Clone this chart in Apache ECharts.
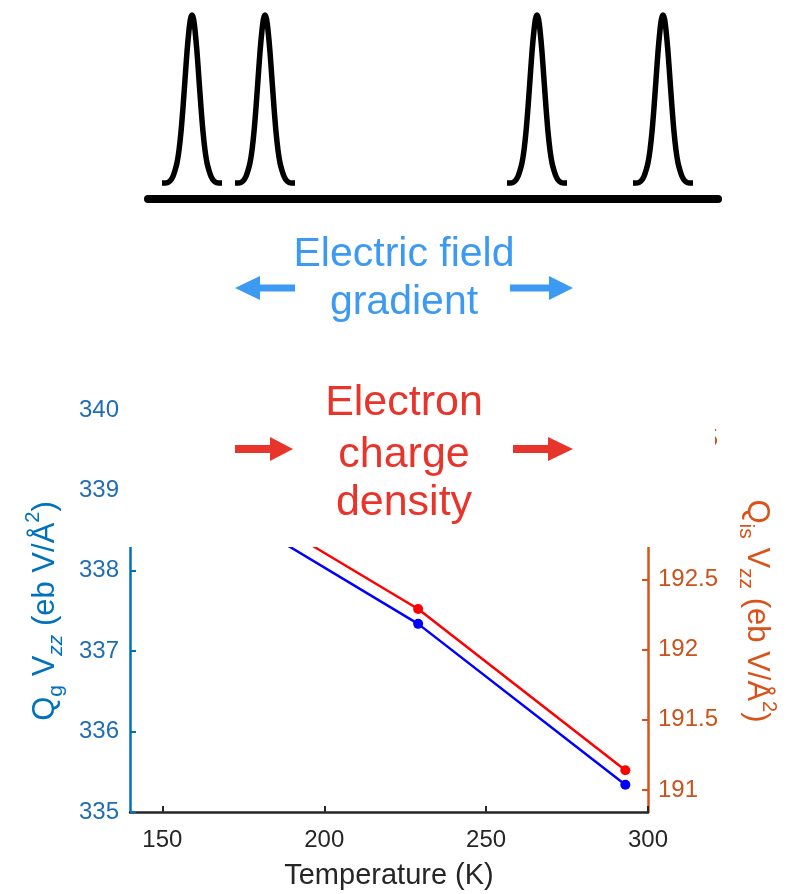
<!DOCTYPE html>
<html>
<head>
<meta charset="utf-8">
<script src="https://cdn.jsdelivr.net/npm/echarts@6/dist/echarts.min.js"></script>
<style>
html,body{margin:0;padding:0;background:#fff;}
#chart{width:794px;height:894px;}
</style>
</head>
<body>
<div id="chart"></div>
<script>
// ---- data ----
const temperature = [150, 229, 293];          // K
const qgVzz = [339.25, 337.34, 335.34];        // left axis, eb V/Å²
const qisVzz = [193.38, 192.29, 191.14];       // right axis, eb V/Å²
const xTicks = [150, 200, 250, 300];
const leftTicks = [335, 336, 337, 338, 339, 340];
const rightTicks = [191, 191.5, 192, 192.5, 193, 193.5];

// schematic spectrum peaks (arbitrary units along the bar)
const peakCenters = [44, 117, 389, 515];
const peakOffsets = [-30, -26, -22, -19, -17, -15, -13, -11, -9, -7, -5, -3, -1.5, 0, 1.5, 3, 5, 7, 9, 11, 13, 15, 17, 19, 22, 26, 30];
const peakProfile = [0, 0, 0.012, 0.04, 0.075, 0.12, 0.195, 0.305, 0.45, 0.615, 0.78, 0.91, 0.977, 1, 0.977, 0.91, 0.78, 0.615, 0.45, 0.305, 0.195, 0.12, 0.075, 0.04, 0.012, 0, 0];

const FONT = '"Liberation Sans", Arial, Helvetica, sans-serif';
const BLUE_AX = '#0072BD';
const ORANGE_AX = '#D95319';
const DARK = '#262626';
const TXT_BLUE = '#3d9af2';
const TXT_RED = '#e8352b';

const peakSeries = peakCenters.map(c => ({
  type: 'line',
  xAxisIndex: 1,
  yAxisIndex: 2,
  data: peakOffsets.map((o, i) => [c + o, peakProfile[i]]),
  showSymbol: false,
  smooth: 0.3,
  clip: false,
  lineStyle: { color: '#000', width: 5.5, join: 'round', cap: 'butt' },
  silent: true
}));

function arrow(tipX, y, baseX, tailX, halfHead, halfShaft, color) {
  return {
    type: 'polygon', z: 110,
    shape: { points: [
      [tipX, y], [baseX, y - halfHead], [baseX, y - halfShaft], [tailX, y - halfShaft],
      [tailX, y + halfShaft], [baseX, y + halfShaft], [baseX, y + halfHead]
    ] },
    style: { fill: color }
  };
}

const nameRich = {
  n: { fontSize: 31, fontFamily: FONT },
  sub: { fontSize: 21, fontFamily: FONT, verticalAlign: 'bottom', lineHeight: 44 },
  subi: { fontSize: 21, fontFamily: FONT, fontStyle: 'italic', verticalAlign: 'bottom', lineHeight: 44 },
  sup: { fontSize: 20, fontFamily: FONT, verticalAlign: 'top', lineHeight: 40 }
};

const option = {
  animation: false,
  backgroundColor: '#fff',
  grid: [
    { left: 130, top: 410, width: 518, height: 402, containLabel: false },
    { left: 148, top: 15, width: 570, height: 184, containLabel: false }
  ],
  xAxis: [
    {
      type: 'value', gridIndex: 0, min: 140, max: 300,
      axisLine: { show: true, onZero: false, lineStyle: { color: DARK, width: 2.5 } },
      axisTick: { show: true, inside: true, length: 6, customValues: xTicks, lineStyle: { color: DARK, width: 2 } },
      axisLabel: { customValues: xTicks, fontSize: 24, color: DARK, fontFamily: FONT, margin: 16 },
      splitLine: { show: false },
      name: 'Temperature (K)', nameLocation: 'middle', nameGap: 49,
      nameTextStyle: { fontSize: 29, color: DARK, fontFamily: FONT }
    },
    {
      type: 'value', gridIndex: 1, min: 0, max: 570,
      axisLine: { show: true, onZero: false, lineStyle: { color: '#000', width: 8 } },
      axisTick: { show: false }, axisLabel: { show: false }, splitLine: { show: false }
    }
  ],
  yAxis: [
    {
      type: 'value', gridIndex: 0, position: 'left', min: 335, max: 340, interval: 1,
      axisLine: { show: true, onZero: false, lineStyle: { color: BLUE_AX, width: 2.5 } },
      axisTick: { show: true, inside: true, length: 6, lineStyle: { color: BLUE_AX, width: 2 } },
      axisLabel: { fontSize: 24, color: '#1f6db3', fontFamily: FONT, margin: 11 },
      splitLine: { show: false },
      name: '{n|Q}{sub|g}{n| V}{subi|zz}{n| (eb V/Å}{sup|2}{n|)}',
      nameLocation: 'middle', nameRotate: 90, nameGap: 63,
      nameTextStyle: { color: BLUE_AX, fontSize: 31, fontFamily: FONT, rich: nameRich }
    },
    {
      type: 'value', gridIndex: 0, position: 'right', min: 190.843, max: 193.708,
      axisLine: { show: true, onZero: false, lineStyle: { color: ORANGE_AX, width: 2.5 } },
      axisTick: { show: true, inside: true, length: 6, customValues: rightTicks, lineStyle: { color: ORANGE_AX, width: 2 } },
      axisLabel: { customValues: rightTicks, fontSize: 24, color: '#c8531c', fontFamily: FONT, margin: 10 },
      splitLine: { show: false },
      name: '{n|Q}{sub|is}{n| V}{sub|zz}{n| (eb V/Å}{sup|2}{n|)}',
      nameLocation: 'middle', nameRotate: -90, nameGap: 87,
      nameTextStyle: { color: ORANGE_AX, fontSize: 31, fontFamily: FONT, rich: nameRich }
    },
    {
      type: 'value', gridIndex: 1, min: -0.095, max: 1, show: false
    }
  ],
  series: [
    {
      type: 'line', xAxisIndex: 0, yAxisIndex: 0, name: 'QgVzz',
      data: temperature.map((t, i) => [t, qgVzz[i]]),
      symbol: 'circle', symbolSize: 10,
      lineStyle: { color: '#0000ff', width: 2.5 },
      itemStyle: { color: '#0000ff' }
    },
    {
      type: 'line', xAxisIndex: 0, yAxisIndex: 1, name: 'QisVzz',
      data: temperature.map((t, i) => [t, qisVzz[i]]),
      symbol: 'circle', symbolSize: 10,
      lineStyle: { color: '#ff0000', width: 2.5 },
      itemStyle: { color: '#ff0000' }
    }
  ].concat(peakSeries),
  graphic: [
    { type: 'rect', z: 100, shape: { x: 124, y: 360, width: 591, height: 187 }, style: { fill: '#fff' } },
    { type: 'text', z: 110, style: { text: 'Electric field', x: 404, y: 255, align: 'center', verticalAlign: 'middle', fontSize: 41, fontFamily: FONT, fill: TXT_BLUE } },
    { type: 'text', z: 110, style: { text: 'gradient', x: 404, y: 303, align: 'center', verticalAlign: 'middle', fontSize: 41, fontFamily: FONT, fill: TXT_BLUE } },
    arrow(235, 288, 260, 295, 12, 3.4, TXT_BLUE),
    arrow(573, 288, 549, 510, 12, 3.4, TXT_BLUE),
    { type: 'text', z: 110, style: { text: 'Electron', x: 404, y: 403, align: 'center', verticalAlign: 'middle', fontSize: 43, fontFamily: FONT, fill: TXT_RED } },
    { type: 'text', z: 110, style: { text: 'charge', x: 404, y: 455, align: 'center', verticalAlign: 'middle', fontSize: 43, fontFamily: FONT, fill: TXT_RED } },
    { type: 'text', z: 110, style: { text: 'density', x: 404, y: 503, align: 'center', verticalAlign: 'middle', fontSize: 43, fontFamily: FONT, fill: TXT_RED } },
    arrow(293, 449, 270, 235, 12, 4, TXT_RED),
    arrow(573, 449, 548, 513, 12, 4, TXT_RED)
  ]
};

const chart = echarts.init(document.getElementById('chart'), null, { renderer: 'canvas' });
chart.setOption(option);
</script>
</body>
</html>
